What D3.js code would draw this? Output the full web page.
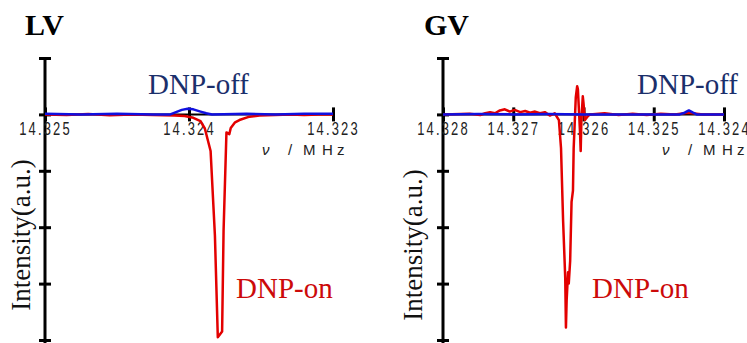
<!DOCTYPE html>
<html>
<head>
<meta charset="utf-8">
<script src="https://cdn.jsdelivr.net/npm/d3@7"></script>
<style>
  body { margin: 0; background: #fff; }
  svg { display: block; }
</style>
</head>
<body>
<svg id="chart" width="747" height="343"></svg>
<script>
// intensity axis (arbitrary units)
const yDomain = [-4, 1];
const yTicks = [1, 0, -1, -2, -3, -4];

// LV panel
const lvTicks = [14.325, 14.324, 14.323];
const lvOnFreq = [14.3250, 14.32485, 14.3247, 14.32455, 14.3244, 14.32425, 14.3241, 14.32403, 14.32397,
  14.32392, 14.32389, 14.32385, 14.32382, 14.32380, 14.32377, 14.32376, 14.32374, 14.32372, 14.32371,
  14.32368, 14.32365, 14.32358, 14.32351, 14.3234, 14.3233, 14.3232, 14.3231, 14.3230];
const lvOn = [0, -0.01, 0.005, -0.015, 0, -0.01, -0.02, -0.03, -0.06,
  -0.12, -0.25, -0.65, -2.15, -3.95, -3.85, -2.07, -0.32, -0.35, -0.24,
  -0.14, -0.1, -0.04, -0.02, -0.01, 0, -0.01, 0, 0];
const lvOffFreq = [14.3250, 14.32475, 14.3245, 14.32425, 14.32413, 14.32409, 14.32405, 14.32401, 14.32397,
  14.32392, 14.32388, 14.32384, 14.3236, 14.3234, 14.3232, 14.3230];
const lvOff = [0.01, 0, 0.01, 0, 0, 0.04, 0.08, 0.1, 0.09,
  0.05, 0.02, 0, 0.01, 0, 0.01, 0.01];

// GV panel
const gvTicks = [14.328, 14.327, 14.326, 14.325, 14.324];
const gvOnFreq = [14.3280, 14.32762, 14.32747, 14.3274, 14.32733, 14.32726, 14.32719, 14.32712, 14.32705,
  14.32698, 14.3269, 14.32683, 14.32676, 14.32669, 14.32662, 14.32655, 14.32648, 14.32641,
  14.32635, 14.32632, 14.32629, 14.32626, 14.32625, 14.32624, 14.32622, 14.32621, 14.32619,
  14.32617, 14.32615, 14.32614, 14.32611, 14.32609, 14.32608, 14.32607, 14.32605, 14.32604,
  14.32603, 14.32601, 14.326, 14.32598, 14.32595, 14.32591, 14.3257, 14.3255, 14.3253,
  14.3251, 14.3249, 14.3247, 14.32451, 14.3243, 14.3240];
const gvOn = [0, 0.01, -0.01, 0.02, 0.04, 0.02, 0.07, 0.09, 0.05,
  0.08, 0.04, 0.06, 0.03, 0.05, 0.02, 0.04, -0.02, 0.02,
  -0.1, -0.6, -1.9, -2.9, -3.78, -3.3, -2.8, -3.0, -2.6,
  -1.55, -1.35, -0.6, 0.3, 0.5, 0.45, 0.2, -0.3, -0.65,
  -0.1, 0.32, 0.2, -0.1, -0.05, 0, 0.02, -0.01, 0.01,
  -0.01, 0.01, 0, 0.03, 0, 0];
const gvOffFreq = [14.3280, 14.3275, 14.327, 14.3265, 14.326, 14.3255, 14.325, 14.32463, 14.32456,
  14.3245, 14.32444, 14.32439, 14.3242, 14.3240];
const gvOff = [0, 0.005, 0, 0.005, 0, 0, 0, 0, 0.03,
  0.07, 0.03, 0, 0, 0];

// axis unit label pieces
const unitParts = ['ν', '/', 'M', 'H', 'z'];
const unitOffsets = [0, 26, 41, 60, 75];

const redLine = '#e30000';
const blueLine = '#1010e0';
const serif = '"Liberation Serif", "Times New Roman", Times, "DejaVu Serif", serif';
const sans = '"Liberation Sans", Arial, Helvetica, sans-serif';

const svg = d3.select('#chart');

const drawPanel = (selection, props) => {
  const {
    title, ticks, domain, range, on, off,
    titleX, offLabelX, onLabelX, labelX, labelY, unitX
  } = props;

  const xScale = d3.scaleLinear().domain(domain).range(range);
  const yScale = d3.scaleLinear().domain(yDomain).range([340, 58]);
  const y0 = yScale(0);

  const g = selection.append('g');

  // y axis, ticks on both sides
  g.append('line')
    .attr('x1', range[0]).attr('x2', range[0])
    .attr('y1', 58).attr('y2', 343)
    .attr('stroke', '#000').attr('stroke-width', 3);
  const yAxisG = g.append('g')
    .attr('transform', `translate(${range[0] + 6},0)`)
    .call(d3.axisLeft(yScale).tickValues(yTicks).tickSize(12).tickFormat(''));
  yAxisG.select('.domain').remove();
  yAxisG.selectAll('line').attr('stroke', '#000').attr('stroke-width', 3);

  // x axis through zero
  g.append('line')
    .attr('x1', range[0]).attr('x2', range[1])
    .attr('y1', y0).attr('y2', y0)
    .attr('stroke', '#000').attr('stroke-width', 2);
  const xAxisG = g.append('g')
    .attr('transform', `translate(0,${y0 - 7})`)
    .call(d3.axisBottom(xScale).tickValues(ticks).tickSize(14).tickSizeOuter(0)
      .tickPadding(1).tickFormat(d3.format('.3f')));
  xAxisG.select('.domain').remove();
  xAxisG.selectAll('line').attr('stroke', '#000').attr('stroke-width', 3);
  xAxisG.selectAll('text')
    .attr('fill', '#222')
    .attr('transform', 'scale(0.72,1)')
    .style('font-family', sans)
    .style('font-size', '18px')
    .style('letter-spacing', '3px');

  const line = d3.line()
    .x(d => xScale(d[0]))
    .y(d => yScale(d[1]));

  g.append('path')
    .datum(d3.zip(on.freq, on.vals))
    .attr('d', line)
    .attr('fill', 'none')
    .attr('stroke', redLine)
    .attr('stroke-width', 2.5)
    .attr('stroke-linejoin', 'round');

  g.append('path')
    .datum(d3.zip(off.freq, off.vals))
    .attr('d', line)
    .attr('fill', 'none')
    .attr('stroke', blueLine)
    .attr('stroke-width', 2.5)
    .attr('stroke-linejoin', 'round');

  // texts
  g.append('text')
    .style('font-family', serif)
    .attr('x', titleX).attr('y', 35)
    .attr('font-size', 30).attr('font-weight', 'bold')
    .text(title);

  g.append('text')
    .style('font-family', serif)
    .attr('x', offLabelX).attr('y', 94)
    .attr('font-size', 29).attr('fill', '#1b2f6b')
    .text('DNP-off');

  g.append('text')
    .style('font-family', serif)
    .attr('x', onLabelX).attr('y', 298)
    .attr('font-size', 29).attr('fill', '#cc0a0a')
    .text('DNP-on');

  g.append('text')
    .style('font-family', serif)
    .attr('transform', `translate(${labelX},${labelY}) rotate(-90)`)
    .attr('text-anchor', 'middle')
    .attr('font-size', 27).attr('fill', '#111')
    .text('Intensity(a.u.)');

  g.selectAll('.unit').data(unitParts).enter().append('text')
    .attr('class', 'unit')
    .attr('x', (d, i) => unitX + unitOffsets[i])
    .attr('y', 155)
    .style('font-family', sans)
    .style('font-size', '15px')
    .style('font-style', (d, i) => i === 0 ? 'italic' : 'normal')
    .attr('fill', '#222')
    .text(d => d);
};

svg.call(drawPanel, {
  title: 'LV',
  ticks: lvTicks,
  domain: [14.325, 14.323],
  range: [45, 333],
  on: { freq: lvOnFreq, vals: lvOn },
  off: { freq: lvOffFreq, vals: lvOff },
  titleX: 25, offLabelX: 148, onLabelX: 236,
  labelX: 30, labelY: 235, unitX: 262
});

svg.call(drawPanel, {
  title: 'GV',
  ticks: gvTicks,
  domain: [14.328, 14.324],
  range: [443, 724],
  on: { freq: gvOnFreq, vals: gvOn },
  off: { freq: gvOffFreq, vals: gvOff },
  titleX: 424, offLabelX: 637, onLabelX: 592,
  labelX: 422, labelY: 245, unitX: 662
});
</script>
</body>
</html>
